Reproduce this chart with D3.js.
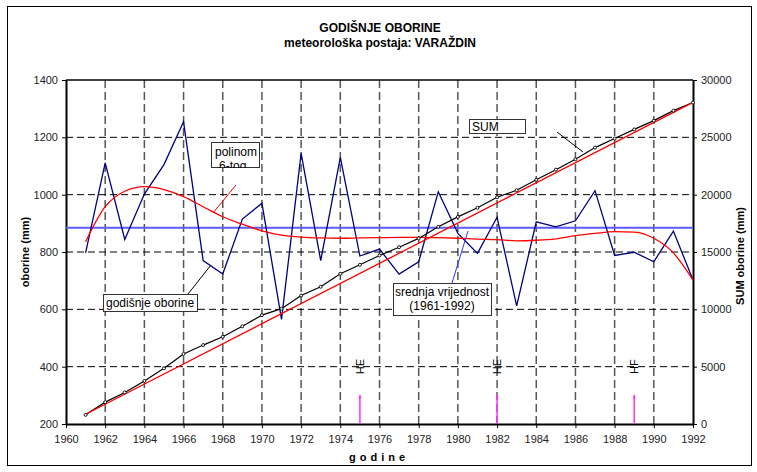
<!DOCTYPE html>
<html>
<head>
<meta charset="utf-8">
<script src="https://cdn.jsdelivr.net/npm/d3@7"></script>
<style>
  body { margin: 0; background: #fff; }
  text { font-family: "Liberation Sans", Arial, sans-serif; }
</style>
</head>
<body>
<div id="chart"></div>
<script>
// godine 1961-1992
var godine = [1961, 1962, 1963, 1964, 1965, 1966, 1967, 1968, 1969, 1970,
              1971, 1972, 1973, 1974, 1975, 1976, 1977, 1978, 1979, 1980,
              1981, 1982, 1983, 1984, 1985, 1986, 1987, 1988, 1989, 1990,
              1991, 1992];

// godisnje oborine (mm)
var oborine = [797, 1111, 844, 1002, 1105, 1254, 770, 723, 915, 970,
               565, 1144, 770, 1130, 786, 810, 723, 766, 1010, 865,
               795, 921, 612, 905, 888, 909, 1014, 788, 799, 766,
               873, 702];

// polinom 6-tog stupnja
var polinom = [836, 958, 1012, 1028, 1018, 993, 958, 923, 897, 874,
               859, 852, 849, 848, 849, 850, 851, 851, 850, 848,
               845, 843, 839, 841, 846, 857, 865, 871, 869, 848,
               797, 702];

var srednja = 885;

// linear trend of SUM (start / end)
var trendGodine = [1961, 1992];
var trendSum = [850, 28050];

// HE / HF markers
var oznakeGodine = [1975, 1982, 1989];
var oznakeTekst = ["HE", "HE", "HF"];

var leftTicks = [200, 400, 600, 800, 1000, 1200, 1400];
var rightTicks = [0, 5000, 10000, 15000, 20000, 25000, 30000];
var xTicks = [1960, 1962, 1964, 1966, 1968, 1970, 1972, 1974, 1976, 1978,
              1980, 1982, 1984, 1986, 1988, 1990, 1992];

var width = 757, height = 472;
var margin = {top: 80, right: 64, bottom: 48, left: 66};
var innerW = width - margin.left - margin.right;
var innerH = height - margin.top - margin.bottom;

var svg = d3.select("#chart").append("svg")
    .attr("width", width)
    .attr("height", height);

// outer frame
svg.append("rect")
    .attr("x", 7.5).attr("y", 6.5)
    .attr("width", 744).attr("height", 459)
    .attr("fill", "#fff")
    .attr("stroke", "#000").attr("stroke-width", 1);

var g = svg.append("g")
    .attr("transform", "translate(" + margin.left + "," + margin.top + ")");

var x = d3.scaleLinear().domain([1960, 1992]).range([0, innerW]);
var y = d3.scaleLinear().domain([200, 1400]).range([innerH, 0]);
var y2 = d3.scaleLinear().domain([0, 30000]).range([innerH, 0]);

// gridlines
g.append("g").selectAll("line")
    .data(xTicks.filter(function(d) { return d > 1960 && d < 1992; }))
    .enter().append("line")
    .attr("x1", function(d) { return x(d); })
    .attr("x2", function(d) { return x(d); })
    .attr("y1", 0).attr("y2", innerH)
    .attr("stroke", "#555").attr("stroke-width", 1.5)
    .attr("stroke-dasharray", "8,4");

g.append("g").selectAll("line")
    .data(leftTicks.filter(function(d) { return d > 200 && d < 1400; }))
    .enter().append("line")
    .attr("x1", 0).attr("x2", innerW)
    .attr("y1", function(d) { return y(d); })
    .attr("y2", function(d) { return y(d); })
    .attr("stroke", "#000").attr("stroke-width", 1)
    .attr("stroke-dasharray", "7,4");

// top border of plot
g.append("line")
    .attr("x1", 0).attr("x2", innerW).attr("y1", 0).attr("y2", 0)
    .attr("stroke", "#000").attr("stroke-width", 1.5);

// axes
function styleAxis(sel) {
    sel.select(".domain").attr("stroke-width", 2);
    sel.selectAll(".tick line").attr("stroke-width", 1);
    sel.selectAll(".tick text")
        .style("font-family", "'Liberation Sans', Arial, sans-serif")
        .style("font-size", "11px")
        .attr("fill", "#222");
}

g.append("g")
    .attr("transform", "translate(0," + innerH + ")")
    .call(d3.axisBottom(x).tickValues(xTicks).tickFormat(d3.format("d"))
        .tickSize(4).tickSizeOuter(0).tickPadding(7))
    .call(styleAxis);

g.append("g")
    .call(d3.axisLeft(y).tickValues(leftTicks).tickFormat(d3.format("d"))
        .tickSize(4).tickSizeOuter(0).tickPadding(4))
    .call(styleAxis);

g.append("g")
    .attr("transform", "translate(" + innerW + ",0)")
    .call(d3.axisRight(y2).tickValues(rightTicks).tickFormat(d3.format("d"))
        .tickSize(4).tickSizeOuter(0).tickPadding(4))
    .call(styleAxis);

// mean line
g.append("line")
    .attr("x1", 0).attr("x2", innerW)
    .attr("y1", y(srednja)).attr("y2", y(srednja))
    .attr("stroke", "#5b5bff").attr("stroke-width", 2);

// annual precipitation
var lineOb = d3.line()
    .x(function(d, i) { return x(godine[i]); })
    .y(function(d) { return y(d); });

g.append("path")
    .datum(oborine)
    .attr("d", lineOb)
    .attr("fill", "none")
    .attr("stroke", "#000080").attr("stroke-width", 1.3);

// polynomial
var linePol = d3.line()
    .x(function(d, i) { return x(godine[i]); })
    .y(function(d) { return y(d); })
    .curve(d3.curveMonotoneX);

g.append("path")
    .datum(polinom)
    .attr("d", linePol)
    .attr("fill", "none")
    .attr("stroke", "#ff0000").attr("stroke-width", 1.3);

// SUM (cumulative of annual values)
var suma = Array.from(d3.cumsum(oborine));

var lineSum = d3.line()
    .x(function(d, i) { return x(godine[i]); })
    .y(function(d) { return y2(d); });

g.append("path")
    .datum(suma)
    .attr("d", lineSum)
    .attr("fill", "none")
    .attr("stroke", "#000").attr("stroke-width", 1.2);

// trend of SUM
g.append("line")
    .attr("x1", x(trendGodine[0])).attr("y1", y2(trendSum[0]))
    .attr("x2", x(trendGodine[1])).attr("y2", y2(trendSum[1]))
    .attr("stroke", "#ff0000").attr("stroke-width", 1.3);

g.append("g").selectAll("circle")
    .data(suma)
    .enter().append("circle")
    .attr("cx", function(d, i) { return x(godine[i]); })
    .attr("cy", function(d) { return y2(d); })
    .attr("r", 1.5)
    .attr("fill", "#fff")
    .attr("stroke", "#000").attr("stroke-width", 0.9);

// HE / HF arrows
var oznake = g.append("g");
oznake.selectAll("line")
    .data(oznakeGodine)
    .enter().append("line")
    .attr("x1", function(d) { return x(d); })
    .attr("x2", function(d) { return x(d); })
    .attr("y1", y2(0)).attr("y2", y2(2500))
    .attr("stroke", "#ff33ff").attr("stroke-width", 1.5);
oznake.selectAll("path")
    .data(oznakeGodine)
    .enter().append("path")
    .attr("d", function(d) {
        var px = x(d), py = y2(2500);
        return "M" + (px - 1.5) + "," + (py + 3) + "L" + px + "," + (py - 1) + "L" + (px + 1.5) + "," + (py + 3) + "Z";
    })
    .attr("fill", "#ff33ff");
oznake.selectAll("text")
    .data(oznakeGodine)
    .enter().append("text")
    .attr("transform", function(d) {
        return "translate(" + (x(d) + 4) + "," + y2(5000) + ") rotate(-90)";
    })
    .attr("text-anchor", "middle")
    .style("font-size", "11px")
    .text(function(d, i) { return oznakeTekst[i]; });

// annotation boxes and leader lines
function leader(x1, y1, x2, y2c, color) {
    svg.append("line")
        .attr("x1", x1).attr("y1", y1).attr("x2", x2).attr("y2", y2c)
        .attr("stroke", color).attr("stroke-width", 1);
}
function box(bx, by, bw, bh) {
    svg.append("rect")
        .attr("x", bx + 0.5).attr("y", by + 0.5)
        .attr("width", bw).attr("height", bh)
        .attr("fill", "#fff").attr("stroke", "#333").attr("stroke-width", 1);
}

// polinom 6-tog
leader(236, 185, 213, 213, "#ff0000");
svg.append("clipPath").attr("id", "polclip")
    .append("rect").attr("x", 212).attr("y", 143).attr("width", 47).attr("height", 25);
box(211, 142, 48, 25);
var polText = svg.append("g").attr("clip-path", "url(#polclip)");
polText.append("text").attr("x", 215).attr("y", 156).style("font-size", "12px").text("polinom");
polText.append("text").attr("x", 219).attr("y", 170).style("font-size", "12px").text("6-tog");

// SUM
leader(557, 132, 583, 152, "#000");
box(469, 119, 56, 14);
svg.append("text").attr("x", 472).attr("y", 131).style("font-size", "12px").text("SUM");

// godisnje oborine
leader(188, 294, 211, 265, "#000");
box(103, 294, 94, 17);
svg.append("text").attr("x", 106).attr("y", 307).style("font-size", "12px").text("godišnje oborine");

// srednja vrijednost
leader(452, 283, 468, 231, "#3333ff");
box(393, 283, 98, 32);
svg.append("text").attr("x", 442).attr("y", 296).attr("text-anchor", "middle")
    .style("font-size", "12px").text("srednja vrijednost");
svg.append("text").attr("x", 442).attr("y", 310).attr("text-anchor", "middle")
    .style("font-size", "12px").text("(1961-1992)");

// titles
svg.append("text").attr("x", 380).attr("y", 32).attr("text-anchor", "middle")
    .style("font-size", "12px").style("font-weight", "bold").text("GODIŠNJE OBORINE");
svg.append("text").attr("x", 380).attr("y", 46.5).attr("text-anchor", "middle")
    .style("font-size", "12px").style("font-weight", "bold").text("meteorološka postaja: VARAŽDIN");

// axis titles
svg.append("text").attr("x", 379).attr("y", 461).attr("text-anchor", "middle")
    .style("font-size", "11px").style("font-weight", "bold")
    .style("letter-spacing", "4px").text("godine");
svg.append("text")
    .attr("transform", "translate(29," + (margin.top + innerH / 2) + ") rotate(-90)")
    .attr("text-anchor", "middle")
    .style("font-size", "11px").style("font-weight", "bold").text("oborine (mm)");
svg.append("text")
    .attr("transform", "translate(744," + (margin.top + innerH / 2 + 4) + ") rotate(-90)")
    .attr("text-anchor", "middle")
    .style("font-size", "11px").style("font-weight", "bold").text("SUM oborine (mm)");
</script>
</body>
</html>
